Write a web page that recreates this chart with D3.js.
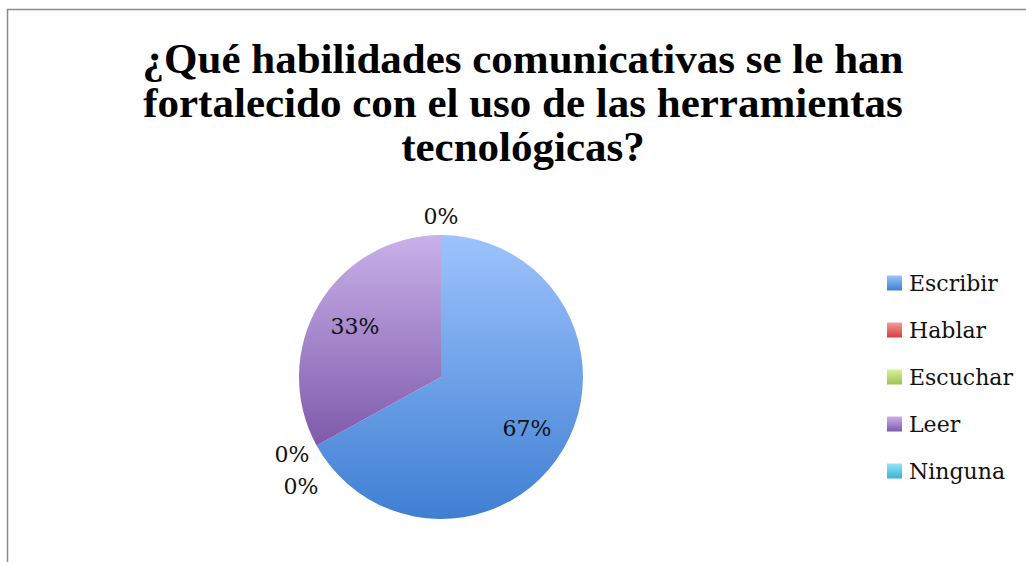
<!DOCTYPE html>
<html><head><meta charset="utf-8">
<script src="https://cdn.jsdelivr.net/npm/d3@7"></script>
<style>
html,body{margin:0;padding:0;background:#fff;}
svg{display:block;}
</style></head>
<body>
<svg id="chart" width="1026" height="562"></svg>
<script>
const titleLines = ["¿Qué habilidades comunicativas se le han", "fortalecido con el uso de las herramientas", "tecnológicas?"];
const categories = ["Escribir", "Hablar", "Escuchar", "Leer", "Ninguna"];
const values = [67, 0, 0, 33, 0];
const colorTop = ["#9dc3fd", "#f79a9a", "#d6f29c", "#c9b1e9", "#92e6f5"];
const colorBottom = ["#3f7fd3", "#d23e3e", "#9cc44e", "#7e5aab", "#36b5d3"];

const svg = d3.select("#chart");

// frame
svg.append("path").attr("d", "M7.5,562 L7.5,9.5 L1026,9.5").attr("fill", "none").attr("stroke", "#8c8c8c").attr("stroke-width", 1.5);

// title
const title = svg.append("text").attr("text-anchor", "middle")
  .attr("font-family", "'Liberation Serif', 'Times New Roman', serif")
  .attr("font-weight", "bold").attr("font-size", 43).attr("fill", "#000");
titleLines.forEach((t, i) => title.append("tspan").attr("x", 523).attr("y", 73 + i * 44).text(t));

// gradients
const defs = svg.append("defs");
categories.forEach((c, i) => {
  const g = defs.append("linearGradient").attr("id", "grad" + i)
    .attr("x1", 0).attr("y1", 0).attr("x2", 0).attr("y2", 1);
  g.append("stop").attr("offset", "0%").attr("stop-color", colorTop[i]);
  g.append("stop").attr("offset", "100%").attr("stop-color", colorBottom[i]);
});

const cx = 441, cy = 377, r = 142;
const pie = d3.pie().sort(null).value(d => d)(values);
const arc = d3.arc().innerRadius(0).outerRadius(r);
const g = svg.append("g").attr("transform", `translate(${cx},${cy})`);

g.selectAll("path.slice").data(pie).enter().append("path")
  .attr("class", "slice")
  .attr("d", arc)
  .attr("fill", (d, i) => `url(#grad${i})`);

const total = d3.sum(values);
const fmt = v => Math.round(v / total * 100) + "%";
const labelFont = "'DejaVu Serif', serif";

// labels
const innerArc = d3.arc().innerRadius(100).outerRadius(100);
const placed = [];
pie.forEach((d, i) => {
  let x, y;
  if (d.value > 0) {
    [x, y] = innerArc.centroid(d);
  } else {
    const a = d.startAngle;
    const rr = r + 8;
    x = Math.sin(a) * rr + Math.sin(a) * 20;
    y = -Math.cos(a) * rr - Math.cos(a) * 11;
    placed.forEach(p => {
      if (Math.abs(p[0] - x) < 40 && Math.abs(p[1] - y) < 28) { y = p[1] + 32; x = p[0] + 9; }
    });
    placed.push([x, y]);
  }
  g.append("text").attr("x", x).attr("y", y).attr("dy", "0.35em")
    .attr("text-anchor", "middle")
    .attr("font-family", labelFont).attr("font-size", 22).attr("fill", "#111")
    .text(fmt(d.value));
});

// legend
const leg = svg.append("g").attr("transform", "translate(887,283)");
categories.forEach((c, i) => {
  const row = leg.append("g").attr("transform", `translate(0,${i * 47})`);
  row.append("rect").attr("x", 0).attr("y", -7.5).attr("width", 15).attr("height", 15)
    .attr("fill", `url(#grad${i})`);
  row.append("text").attr("x", 22).attr("y", 0).attr("dy", "0.35em")
    .attr("font-family", labelFont).attr("font-size", 22).attr("fill", "#111").text(c);
});
</script>
</body></html>
